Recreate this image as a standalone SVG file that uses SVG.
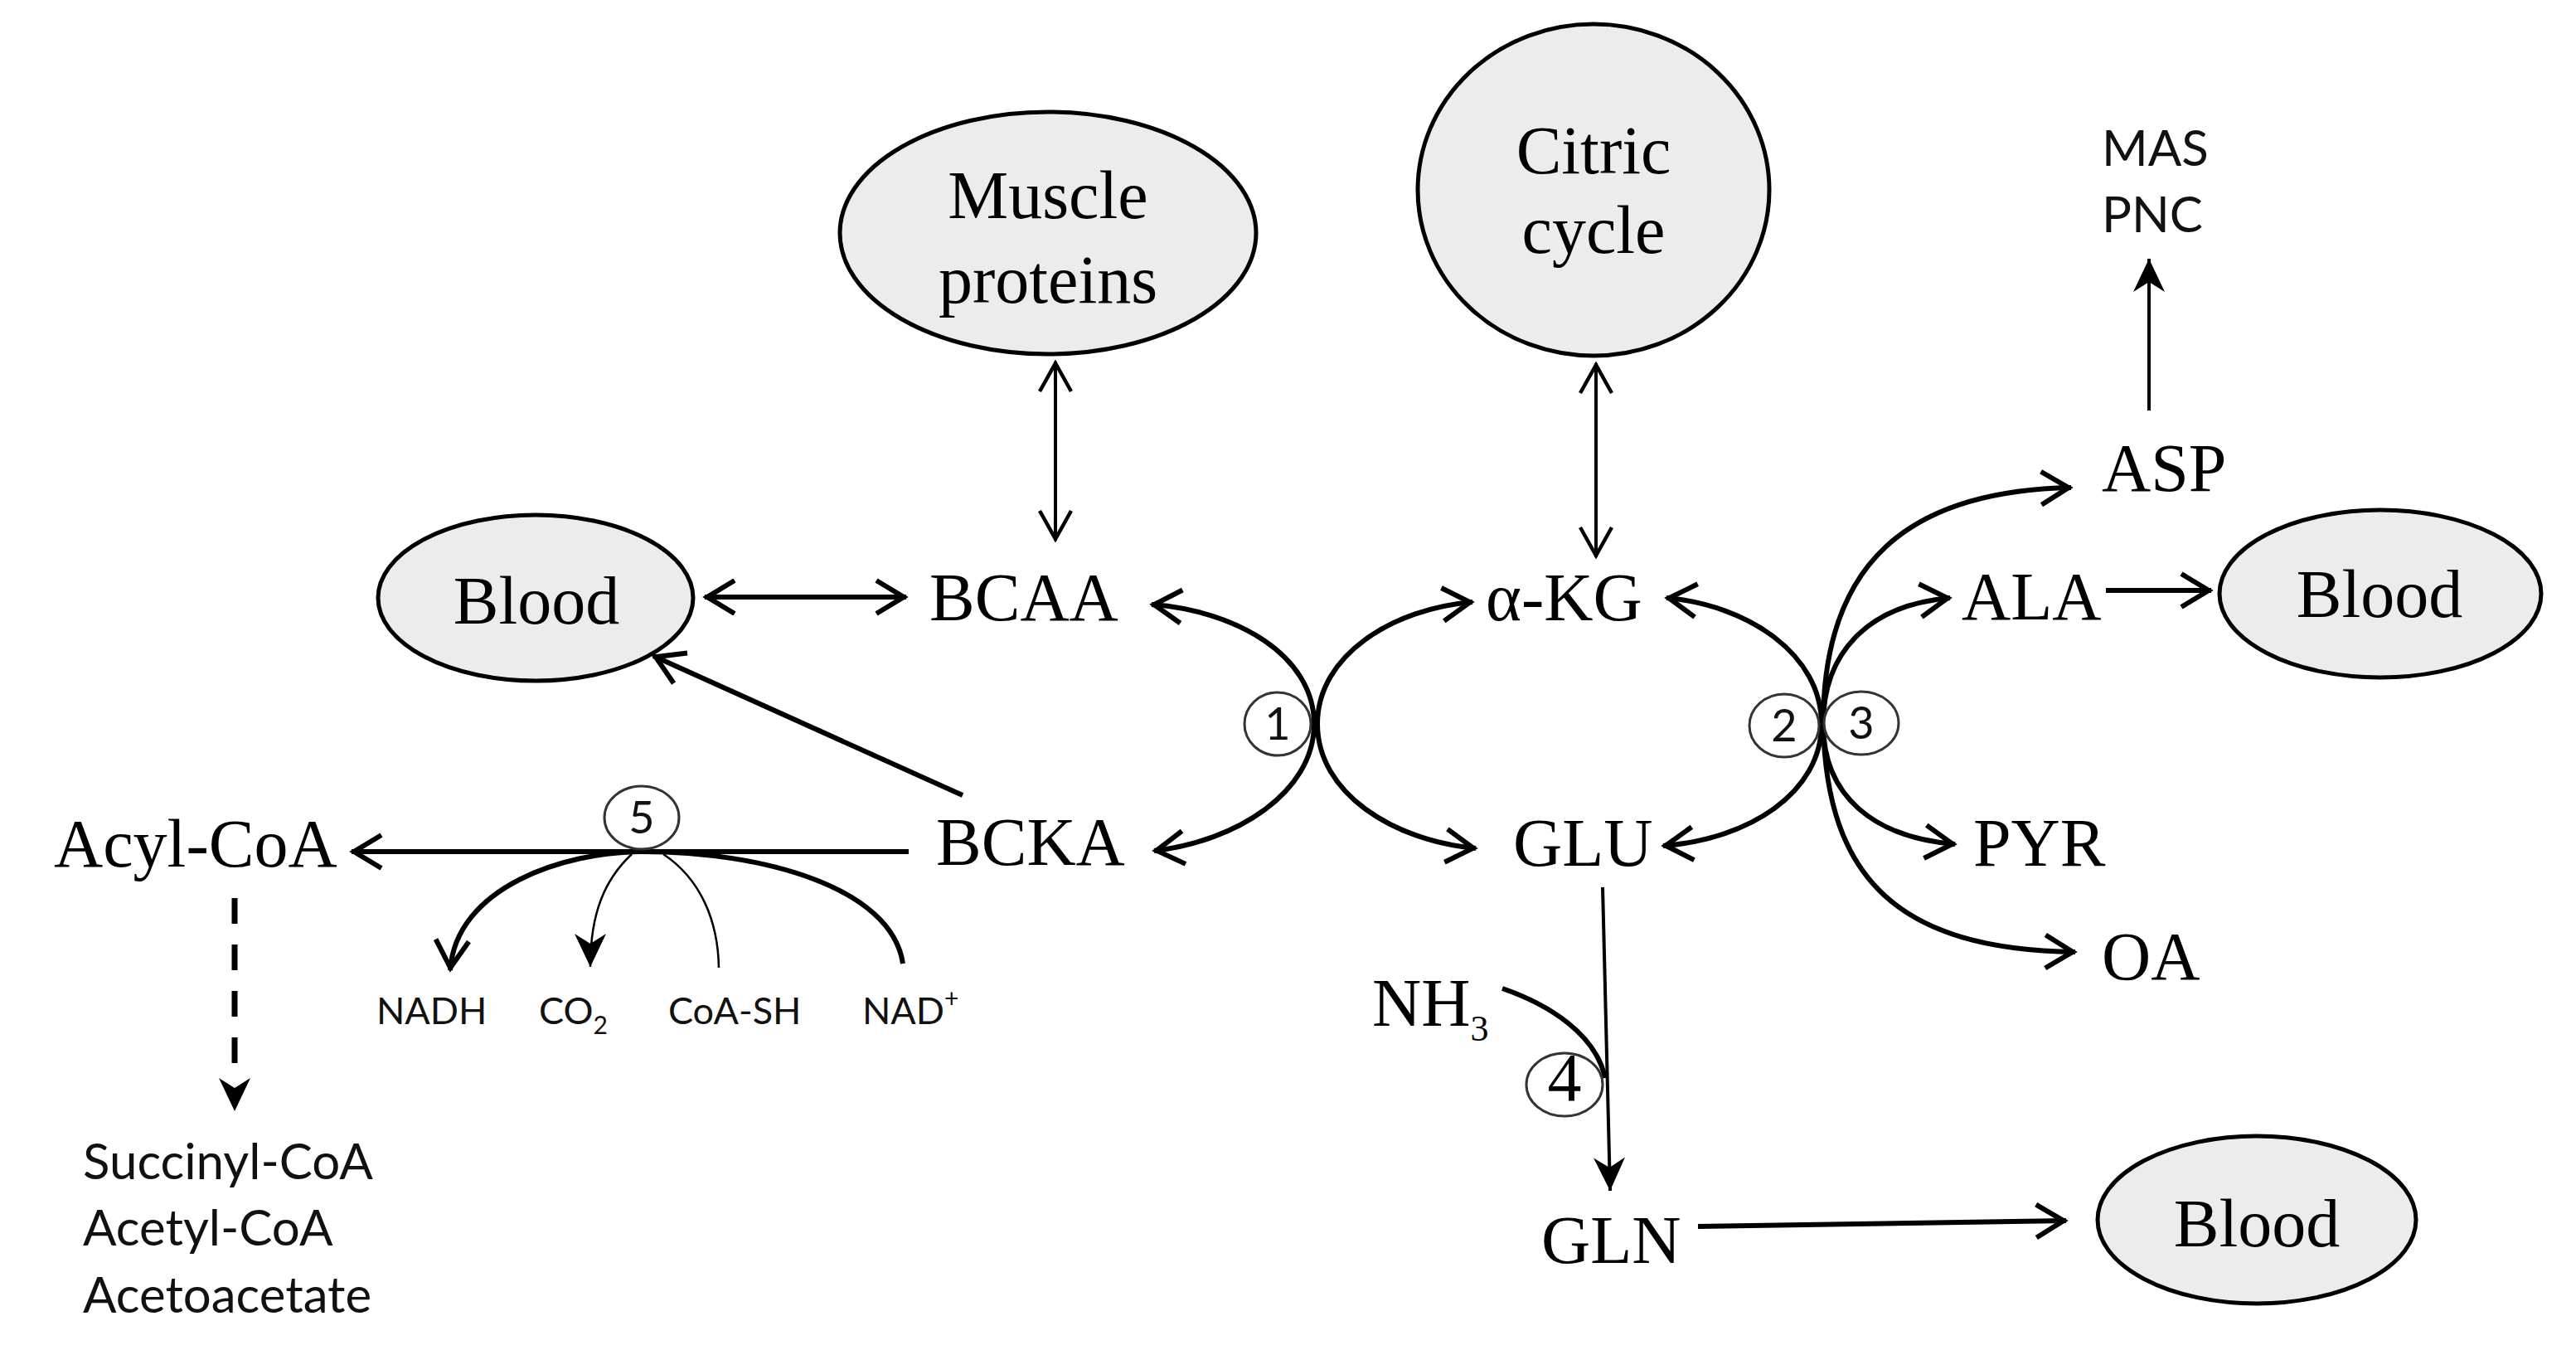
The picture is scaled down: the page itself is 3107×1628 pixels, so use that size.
<svg xmlns="http://www.w3.org/2000/svg" width="3107" height="1628" viewBox="0 0 3107 1628">
<style>
.bg{fill:#ffffff}
.ell{fill:#ececec;stroke:#000;stroke-width:5}
.num{fill:#ffffff;stroke:#333;stroke-width:3}
.sf{font-family:"Liberation Serif","Times New Roman",serif;font-size:82px;fill:#000}
.ss{font-family:Lato,"Liberation Sans",sans-serif;fill:#111}
.lbl{font-size:45px}
.big{font-size:60px}
.nm{font-family:Lato,"Liberation Sans",sans-serif;font-size:54px;fill:#111}
.thick{fill:none;stroke:#000;stroke-width:6}
.thin{fill:none;stroke:#000;stroke-width:4}
.hair{fill:none;stroke:#000;stroke-width:2.5}
.dash{fill:none;stroke:#000;stroke-width:7;stroke-dasharray:31 25}
</style>
<defs>
<marker id="av" markerUnits="userSpaceOnUse" markerWidth="60" markerHeight="60" viewBox="-50 -30 60 60" refX="0" refY="0" orient="auto-start-reverse" overflow="visible">
<path d="M-36,-20 L-3,0 L-36,20" fill="none" stroke="#000" stroke-width="6"/>
</marker>
<marker id="avt" markerUnits="userSpaceOnUse" markerWidth="60" markerHeight="60" viewBox="-50 -30 60 60" refX="0" refY="0" orient="auto-start-reverse" overflow="visible">
<path d="M-36,-19 L-2,0 L-36,19" fill="none" stroke="#000" stroke-width="4.5"/>
</marker>
<marker id="as" markerUnits="userSpaceOnUse" markerWidth="60" markerHeight="60" viewBox="-50 -30 60 60" refX="0" refY="0" orient="auto-start-reverse" overflow="visible">
<path d="M0,0 L-40,-19 L-28,0 L-40,19 Z" fill="#000"/>
</marker>
</defs>
<rect class="bg" x="0" y="0" width="3107" height="1628"/>

<g id="connectors">
<path class="thin" d="M1273,436 L1273,652" marker-start="url(#avt)" marker-end="url(#avt)"/>
<path class="thin" d="M1925,438 L1925,672" marker-start="url(#avt)" marker-end="url(#avt)"/>
<path class="thick" d="M850,720 L1093,720" marker-start="url(#av)" marker-end="url(#av)"/>
<path class="thick" d="M1161,959 L788,791" marker-end="url(#av)"/>
<path class="thick" d="M1096,1027 L424,1027" marker-end="url(#av)"/>
<path class="dash" d="M283,1083 L283,1300"/>
<path d="M283,1300 L283,1340" fill="none" stroke="none" marker-end="url(#as)"/>
<path class="thin" d="M2592,495 L2592,312" marker-end="url(#as)"/>
<path class="thick" d="M2540,712 L2667,712" marker-end="url(#av)"/>
<path class="thin" d="M1933,1070 L1942,1436" marker-end="url(#as)"/>
<path class="thick" d="M2048,1479 L2492,1472" marker-end="url(#av)"/>
<path class="thick" d="M1812,1192 C1870,1212 1925,1248 1936,1300"/>
<path class="thick" d="M1389,729 C1490,736 1585,790 1585,873 C1585,956 1490,1015 1392,1026" marker-start="url(#av)" marker-end="url(#av)"/>
<path class="thick" d="M1776,726 C1680,734 1589,790 1589,873 C1589,956 1680,1014 1780,1023" marker-start="url(#av)" marker-end="url(#av)"/>
<path class="thick" d="M2010,721 C2110,730 2197,790 2197,873 C2197,956 2110,1012 2006,1020" marker-start="url(#av)" marker-end="url(#av)"/>
<path class="thick" d="M2199,873 C2199,790 2250,730 2352,721" marker-end="url(#av)"/>
<path class="thick" d="M2199,873 C2199,680 2300,592 2498,588" marker-end="url(#av)"/>
<path class="thick" d="M2199,873 C2199,960 2260,1010 2358,1018" marker-end="url(#av)"/>
<path class="thick" d="M2199,873 C2203,1060 2290,1145 2503,1148" marker-end="url(#av)"/>
<path class="thick" d="M1089,1162 C1075,1070 920,1027 775,1027 C680,1027 550,1070 543,1170" marker-end="url(#av)"/>
<path class="hair" d="M762,1030 C730,1060 712,1100 712,1166" marker-end="url(#as)"/>
<path class="hair" d="M800,1030 C845,1060 866,1110 867,1167"/>
</g>

<g id="muscle-proteins">
<ellipse class="ell" cx="1264" cy="281" rx="251" ry="146"/>
<text class="sf" x="1264" y="263" text-anchor="middle">Muscle</text>
<text class="sf" x="1264" y="365" text-anchor="middle">proteins</text>
</g>
<g id="citric-cycle">
<ellipse class="ell" cx="1922" cy="229" rx="212" ry="200"/>
<text class="sf" x="1922" y="209" text-anchor="middle">Citric</text>
<text class="sf" x="1922" y="305" text-anchor="middle">cycle</text>
</g>
<g id="blood-left">
<ellipse class="ell" cx="646" cy="721" rx="190" ry="100"/>
<text class="sf" x="647" y="752" text-anchor="middle">Blood</text>
</g>
<g id="blood-right">
<ellipse class="ell" cx="2871" cy="716" rx="194" ry="101"/>
<text class="sf" x="2870" y="744" text-anchor="middle">Blood</text>
</g>
<g id="blood-bottom">
<ellipse class="ell" cx="2722" cy="1471" rx="192" ry="101"/>
<text class="sf" x="2722" y="1503" text-anchor="middle">Blood</text>
</g>
<g id="bcaa"><text class="sf" x="1121" y="748">BCAA</text></g>
<g id="akg"><text class="sf" x="1792" y="748">α-KG</text></g>
<g id="asp"><text class="sf" x="2535" y="592">ASP</text></g>
<g id="mas-pnc">
<text class="ss big" x="2535" y="200">MAS</text>
<text class="ss big" x="2535" y="280">PNC</text>
</g>
<g id="ala"><text class="sf" x="2366" y="747">ALA</text></g>
<g id="bcka"><text class="sf" x="1129" y="1043">BCKA</text></g>
<g id="acyl-coa"><text class="sf" x="65" y="1045">Acyl-CoA</text></g>
<g id="glu"><text class="sf" x="1825" y="1044">GLU</text></g>
<g id="pyr"><text class="sf" x="2380" y="1044">PYR</text></g>
<g id="oa"><text class="sf" x="2535" y="1181">OA</text></g>
<g id="nh3"><text class="sf" x="1655" y="1237">NH<tspan font-size="44" dy="18">3</tspan></text></g>
<g id="gln"><text class="sf" x="1859" y="1523">GLN</text></g>
<g id="products">
<text class="ss big" x="100" y="1422">Succinyl-CoA</text>
<text class="ss big" x="100" y="1502">Acetyl-CoA</text>
<text class="ss big" x="100" y="1583">Acetoacetate</text>
</g>
<g id="cofactors">
<text class="ss lbl" x="454" y="1235">NADH</text>
<text class="ss lbl" x="650" y="1235">CO<tspan font-size="30" dy="12">2</tspan></text>
<text class="ss lbl" x="806" y="1235">CoA-SH</text>
<text class="ss lbl" x="1040" y="1235">NAD<tspan font-size="30" dy="-20">+</tspan></text>
</g>
<g id="enzyme-1">
<ellipse class="num" cx="1541" cy="873" rx="40" ry="38"/>
<text class="nm" x="1541" y="892" text-anchor="middle">1</text>
</g>
<g id="enzyme-2">
<ellipse class="num" cx="2152" cy="875" rx="42" ry="38"/>
<text class="nm" x="2152" y="894" text-anchor="middle">2</text>
</g>
<g id="enzyme-3">
<ellipse class="num" cx="2245" cy="872" rx="45" ry="38"/>
<text class="nm" x="2245" y="891" text-anchor="middle">3</text>
</g>
<g id="enzyme-4">
<ellipse class="num" cx="1887" cy="1308" rx="46" ry="38"/>
<text class="sf" x="1887" y="1327" text-anchor="middle" font-size="56">4</text>
</g>
<g id="enzyme-5">
<ellipse class="num" cx="774" cy="986" rx="45" ry="38"/>
<text class="nm" x="774" y="1005" text-anchor="middle">5</text>
</g>
</svg>
